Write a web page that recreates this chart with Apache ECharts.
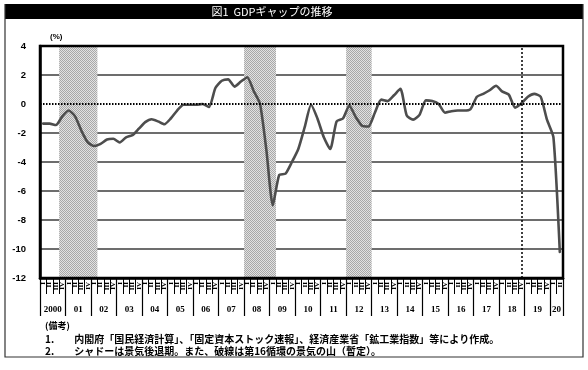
<!DOCTYPE html>
<html>
<head>
<meta charset="utf-8">
<script src="https://cdn.jsdelivr.net/npm/echarts@6/dist/echarts.min.js"></script>
<style>
  html, body { margin: 0; padding: 0; background: #fff; }
  #chart { width: 588px; height: 370px; }
</style>
</head>
<body>
<div id="chart"></div>
<script>
// Output gap, quarterly, 2000 Q1 – 2020 Q2 (%)
const yearLabels = ['2000','01','02','03','04','05','06','07','08','09','10',
                    '11','12','13','14','15','16','17','18','19','20'];
const quarterMarks = ['I','II','III','IV'];
const gdpGap = [
  -1.35, -1.35, -1.45, -0.85,   // 2000
  -0.45, -0.85, -1.85, -2.65,   // 2001
  -2.9, -2.75, -2.45, -2.4,     // 2002
  -2.65, -2.3, -2.15, -1.7,     // 2003
  -1.25, -1.05, -1.2, -1.4,     // 2004
  -1.0, -0.45, -0.05, -0.05,    // 2005
  -0.05, 0.0, -0.2, 1.1,        // 2006
  1.6, 1.7, 1.2, 1.55,          // 2007
  1.85, 0.9, 0.0, -3.2,         // 2008
  -7.0, -4.9, -4.8, -4.0,       // 2009
  -3.1, -1.6, -0.05, -1.0,      // 2010
  -2.3, -3.1, -1.2, -1.0,       // 2011
  -0.1, -0.9, -1.5, -1.55,      // 2012
  -0.6, 0.3, 0.2, 0.6,          // 2013
  1.05, -0.8, -1.08, -0.75,     // 2014
  0.25, 0.2, 0.0, -0.6,         // 2015
  -0.5, -0.45, -0.45, -0.35,    // 2016
  0.5, 0.7, 0.95, 1.26,         // 2017
  0.85, 0.65, -0.25, 0.05,      // 2018
  0.5, 0.7, 0.5, -1.1,          // 2019
  -2.3, -10.2                   // 2020
];
// Recession periods (first and last quarter)
const recessions = [['2000-IV', '2002-I'], ['2008-I', '2009-I'], ['2012-I', '2012-IV']];
const businessCyclePeak = '2018-IV';
const yMin = -12, yMax = 4, yStep = 2;

const title = '図1  GDPギャップの推移';
const notes = [
  '(備考)',
  '1.　　内閣府「国民経済計算」、「固定資本ストック速報」、経済産業省「鉱工業指数」等により作成。',
  '2.　　シャドーは景気後退期。また、破線は第16循環の景気の山（暫定）。'
];

// quarter categories
const quarters = [];
for (let y = 0; quarters.length < gdpGap.length; y++) {
  for (let q = 0; q < 4 && quarters.length < gdpGap.length; q++) {
    quarters.push((2000 + y) + '-' + quarterMarks[q]);
  }
}
// quarter boundaries (for the year ticks and year labels)
const boundaries = [];
for (let i = 0; i <= quarters.length; i++) boundaries.push(String(i));

const plot = { left: 40, top: 46, width: 523, height: 232 };

// fine checker fill for the recession bands
const tile = document.createElement('canvas');
tile.width = 2; tile.height = 2;
const tctx = tile.getContext('2d');
tctx.fillStyle = '#e2e2e2'; tctx.fillRect(0, 0, 2, 2);
tctx.fillStyle = '#a8a8a8'; tctx.fillRect(0, 0, 1, 1); tctx.fillRect(1, 1, 1, 1);

const gridColors = [];
for (let v = yMin; v <= yMax; v += yStep) gridColors.push(v === 0 ? 'rgba(0,0,0,0)' : '#3c3c3c');

const chart = echarts.init(document.getElementById('chart'), null, { renderer: 'canvas' });

chart.setOption({
  animation: false,
  backgroundColor: '#fff',
  grid: { left: plot.left, top: plot.top, width: plot.width, height: plot.height, containLabel: false },
  xAxis: [
    {
      type: 'category',
      data: quarters,
      boundaryGap: true,
      position: 'bottom',
      axisLine: { show: true, onZero: false, lineStyle: { color: '#000', width: 2.5 } },
      axisTick: { show: true, interval: 0, length: 16, lineStyle: { color: '#000', width: 1 } },
      axisLabel: {
        show: true, interval: 0, margin: 4, rotate: 90,
        fontSize: 7, fontWeight: 'bold', color: '#000', fontFamily: 'Liberation Serif',
        formatter: v => v.split('-')[1]
      },
      splitLine: { show: false }
    },
    {
      type: 'category',
      data: boundaries,
      boundaryGap: false,
      position: 'bottom',
      axisLine: { show: false, onZero: false },
      axisTick: {
        show: true, length: 38, lineStyle: { color: '#000', width: 1.2 },
        interval: idx => idx % 4 === 0 || idx === quarters.length
      },
      axisLabel: {
        show: true, margin: 27,
        fontSize: 9, fontWeight: 'bold', color: '#000', fontFamily: 'Liberation Serif',
        interval: idx => (idx % 4 === 2 && idx + 2 <= quarters.length) ||
                         (idx === quarters.length - 1 && quarters.length % 4 !== 0),
        formatter: (v, idx) => yearLabels[Math.floor(idx / 4)]
      },
      splitLine: { show: false }
    }
  ],
  yAxis: {
    type: 'value',
    min: yMin, max: yMax, interval: yStep,
    name: '(%)',
    nameLocation: 'end',
    nameGap: 5,
    nameTextStyle: { fontSize: 8, fontWeight: 'bold', color: '#000', align: 'left', padding: [0, 0, 0, 10], fontFamily: 'Liberation Sans' },
    axisLine: { show: true, onZero: false, lineStyle: { color: '#000', width: 2.5 } },
    axisTick: { show: false },
    axisLabel: { margin: 14, fontSize: 9.5, fontWeight: 'bold', color: '#000', fontFamily: 'Liberation Sans' },
    splitLine: { show: true, lineStyle: { color: gridColors, width: 1.6 } }
  },
  series: [
    {
      type: 'custom',
      name: 'recession',
      silent: true,
      z: 1,
      xAxisIndex: 0,
      yAxisIndex: 0,
      data: recessions.map(r => [quarters.indexOf(r[0]), quarters.indexOf(r[1])]),
      encode: { x: [0, 1] },
      renderItem: (params, api) => {
        const band = api.size([1, 0])[0];
        const a = api.coord([api.value(0), yMax]);
        const b = api.coord([api.value(1), yMin]);
        return {
          type: 'rect',
          shape: { x: a[0] - band / 2, y: a[1], width: b[0] - a[0] + band, height: b[1] - a[1] },
          style: { fill: { image: tile, repeat: 'repeat' } }
        };
      }
    },
    {
      type: 'line',
      name: 'GDPギャップ',
      data: gdpGap,
      xAxisIndex: 0,
      yAxisIndex: 0,
      z: 3,
      smooth: 0.2,
      symbol: 'none',
      lineStyle: { color: '#4d4d4d', width: 2.6, join: 'round', cap: 'round' },
      markLine: {
        silent: true,
        symbol: 'none',
        label: { show: false },
        data: [
          { yAxis: 0, lineStyle: { color: '#000', width: 2.2, type: [1.5, 1.5] } },
          { xAxis: businessCyclePeak, lineStyle: { color: '#000', width: 1.5, type: [2, 2] } }
        ]
      }
    }
  ],
  graphic: [
    { type: 'rect', z: 100, silent: true,
      shape: { x: plot.left, y: plot.top, width: plot.width, height: plot.height },
      style: { fill: null, stroke: '#000', lineWidth: 2.5 } },
    { type: 'rect', z: 90, silent: true,
      shape: { x: 5, y: 4, width: 578, height: 15 },
      style: { fill: '#000' } },
    { type: 'text', z: 91, silent: true, x: 272, y: 11.5,
      style: { text: title, fill: '#fff', fontSize: 11, fontFamily: 'Noto Sans CJK JP',
               align: 'center', verticalAlign: 'middle' } },
    { type: 'polyline', z: 90, silent: true,
      shape: { points: [[5, 4], [5, 357], [583, 357], [583, 4]] },
      style: { fill: null, stroke: '#333', lineWidth: 1.2 } },
    { type: 'text', z: 91, silent: true, x: 45, y: 326,
      style: { text: notes[0], fill: '#000', fontSize: 9, fontWeight: 'bold',
               fontFamily: 'Noto Sans CJK JP', verticalAlign: 'middle' } },
    { type: 'text', z: 91, silent: true, x: 45, y: 339,
      style: { text: notes[1], fill: '#000', fontSize: 10, fontWeight: 'bold',
               fontFamily: 'Noto Sans CJK JP', verticalAlign: 'middle' } },
    { type: 'text', z: 91, silent: true, x: 45, y: 351,
      style: { text: notes[2], fill: '#000', fontSize: 10, fontWeight: 'bold',
               fontFamily: 'Noto Sans CJK JP', verticalAlign: 'middle' } }
  ]
});
</script>
</body>
</html>
